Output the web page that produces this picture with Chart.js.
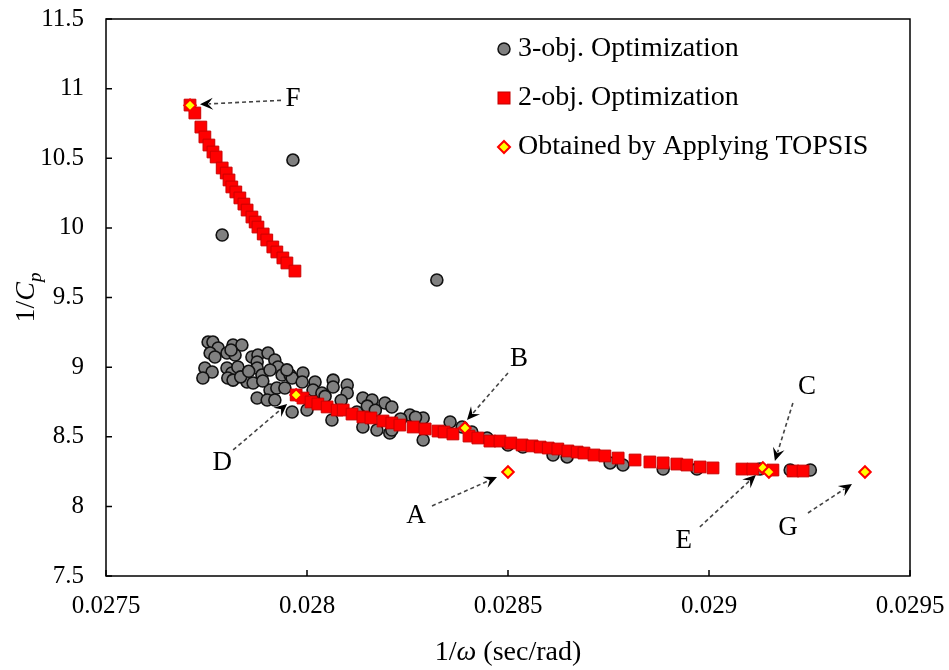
<!DOCTYPE html>
<html>
<head>
<meta charset="utf-8">
<script src="https://cdn.jsdelivr.net/npm/chart.js@4.4.1/dist/chart.umd.min.js"></script>
<style>
  html, body { margin: 0; padding: 0; background: #fff; }
  canvas { display: block; }
</style>
</head>
<body>
<canvas id="cp_chart" width="949" height="670"></canvas>
<script>
// axis ticks
var xTicks = [0.0275, 0.028, 0.0285, 0.029, 0.0295];
var xTickLabels = ['0.0275', '0.028', '0.0285', '0.029', '0.0295'];
var yTicks = [7.5, 8, 8.5, 9, 9.5, 10, 10.5, 11, 11.5];
var yTickLabels = ['7.5', '8', '8.5', '9', '9.5', '10', '10.5', '11', '11.5'];

// 3-objective Pareto front (1/omega, 1/Cp)
var obj3Omega = [
  0.027965, 0.027789, 0.028323, 0.027754, 0.027766, 0.027779, 0.027816, 0.027838,
  0.027759, 0.027771, 0.027801, 0.027821, 0.027863, 0.027878, 0.027903, 0.027876,
  0.027920, 0.027928, 0.027746, 0.027764, 0.027741, 0.027801, 0.027813, 0.027803,
  0.027816, 0.027828, 0.027851, 0.027866, 0.027876, 0.027888, 0.027908, 0.027908,
  0.027938, 0.027958, 0.027963, 0.027990, 0.027988, 0.027925, 0.027945, 0.027876,
  0.027901, 0.027920, 0.027963, 0.028020, 0.028015, 0.028065, 0.028065, 0.028100,
  0.028100, 0.028037, 0.028000, 0.028062, 0.028139, 0.028162, 0.028194, 0.028139,
  0.028174, 0.028124, 0.028206, 0.028211, 0.028256, 0.028289, 0.028211, 0.028289,
  0.028356, 0.028386, 0.028410, 0.028448, 0.028500, 0.028537, 0.028612, 0.028647,
  0.028754, 0.028786, 0.028886, 0.028970, 0.029127, 0.029202, 0.029252, 0.027811,
  0.028233, 0.028270, 0.027950, 0.028045, 0.028085, 0.028150, 0.028170, 0.027835,
  0.027855, 0.027890
];
var obj3Cp = [
  10.487, 9.949, 9.626, 9.180, 9.180, 9.137, 9.159, 9.159,
  9.101, 9.073, 9.101, 9.087, 9.073, 9.087, 9.101, 9.037,
  9.051, 9.001, 8.994, 8.965, 8.922, 8.994, 8.958, 8.922,
  8.907, 9.001, 8.893, 8.886, 8.994, 8.943, 8.979, 8.836,
  8.943, 8.943, 8.922, 8.958, 8.893, 8.850, 8.850, 8.778,
  8.764, 8.764, 8.678, 8.893, 8.836, 8.907, 8.857, 8.872,
  8.814, 8.814, 8.692, 8.620, 8.778, 8.764, 8.742, 8.570,
  8.548, 8.678, 8.527, 8.714, 8.656, 8.635, 8.548, 8.477,
  8.606, 8.570, 8.534, 8.491, 8.441, 8.426, 8.369, 8.355,
  8.312, 8.297, 8.268, 8.268, 8.268, 8.261, 8.261, 9.123,
  8.628, 8.640, 8.980, 8.790, 8.760, 8.720, 8.690, 8.930,
  8.970, 8.900
];

// 2-objective Pareto front
var obj2Omega = [
  0.027709, 0.027721, 0.027736, 0.027746, 0.027756, 0.027766, 0.027774, 0.027789,
  0.027799, 0.027806, 0.027813, 0.027823, 0.027833, 0.027843, 0.027851, 0.027863,
  0.027871, 0.027878, 0.027891, 0.027900, 0.027915, 0.027925, 0.027940, 0.027950,
  0.027970,
  0.027973, 0.027990, 0.028010, 0.028027, 0.028050, 0.028075, 0.028090, 0.028112,
  0.028139, 0.028159, 0.028189, 0.028211, 0.028231, 0.028264, 0.028294, 0.028326,
  0.028341, 0.028363, 0.028403, 0.028425, 0.028455, 0.028480, 0.028507, 0.028535,
  0.028560, 0.028580, 0.028600, 0.028624, 0.028649, 0.028672, 0.028689, 0.028714,
  0.028741, 0.028774, 0.028816, 0.028853, 0.028886, 0.028920, 0.028945, 0.028978,
  0.029010, 0.029082, 0.029109, 0.029159, 0.029209, 0.029234
];
var obj2Cp = [
  10.882, 10.825, 10.724, 10.653, 10.595, 10.545, 10.509, 10.430,
  10.394, 10.344, 10.294, 10.258, 10.215, 10.171, 10.128, 10.078,
  10.042, 10.006, 9.956, 9.913, 9.863, 9.827, 9.784, 9.748,
  9.690,
  8.800, 8.778, 8.750, 8.735, 8.714, 8.692, 8.692, 8.663,
  8.642, 8.635, 8.613, 8.599, 8.584, 8.570, 8.556, 8.541,
  8.534, 8.520, 8.505, 8.491, 8.469, 8.469, 8.455, 8.441,
  8.434, 8.426, 8.419, 8.412, 8.398, 8.390, 8.383, 8.369,
  8.362, 8.347, 8.333, 8.319, 8.312, 8.304, 8.297, 8.283,
  8.276, 8.268, 8.268, 8.261, 8.254, 8.254
];

// solutions picked by TOPSIS
var topsisNames = ['F', 'D', 'B', 'A', 'E', 'C', 'G'];
var topsisOmega = [0.027709, 0.027973, 0.028393, 0.028500, 0.029134, 0.029149, 0.029388];
var topsisCp = [10.88, 8.80, 8.563, 8.247, 8.276, 8.247, 8.247];

function pairs(xs, ys) {
  return xs.map(function (v, i) { return {x: v, y: ys[i]}; });
}

var serif = 'Liberation Serif, Times New Roman, serif';

// callout offsets from each TOPSIS point, in pixels: arrow tip, arrow tail, letter
var callouts = {
  F: {tip: [10, -1], tail: [91, -5], text: [103, -6]},
  B: {tip: [2, -8], tail: [43, -55], text: [54, -69]},
  A: {tip: [-11, 5], tail: [-76, 34], text: [-92, 44]},
  D: {tip: [-9, 9], tail: [-63, 55], text: [-74, 68]},
  C: {tip: [6, -11], tail: [24, -69], text: [38, -85]},
  E: {tip: [-7, 7], tail: [-63, 59], text: [-79, 73]},
  G: {tip: [-13, 12], tail: [-57, 41], text: [-77, 56]}
};

function arrow(ctx, sx, sy, tx, ty) {
  var ang = Math.atan2(ty - sy, tx - sx);
  var back = 9;
  ctx.save();
  ctx.strokeStyle = '#444';
  ctx.lineWidth = 1.6;
  ctx.setLineDash([4, 3]);
  ctx.beginPath();
  ctx.moveTo(sx, sy);
  ctx.lineTo(tx - Math.cos(ang) * back, ty - Math.sin(ang) * back);
  ctx.stroke();
  ctx.setLineDash([]);
  ctx.translate(tx, ty);
  ctx.rotate(ang);
  ctx.fillStyle = '#000';
  ctx.beginPath();
  ctx.moveTo(0, 0);
  ctx.lineTo(-13, -6);
  ctx.lineTo(-8, 0);
  ctx.lineTo(-13, 6);
  ctx.closePath();
  ctx.fill();
  ctx.restore();
}

function richText(ctx, parts, x, y) {
  // parts: [text, font, dy]
  var w = 0;
  parts.forEach(function (p) { ctx.font = p[1]; w += ctx.measureText(p[0]).width; });
  var cx = x - w / 2;
  parts.forEach(function (p) {
    ctx.font = p[1];
    ctx.fillText(p[0], cx, y + (p[2] || 0));
    cx += ctx.measureText(p[0]).width;
  });
}

var decor = {
  id: 'decor',
  beforeDatasetsDraw: function (chart) {
    var ctx = chart.ctx, a = chart.chartArea, sx = chart.scales.x, sy = chart.scales.y;
    ctx.save();
    ctx.strokeStyle = '#000';
    ctx.lineWidth = 1.5;
    ctx.strokeRect(a.left, a.top, a.right - a.left, a.bottom - a.top);
    ctx.beginPath();
    sx.ticks.forEach(function (t) {
      var px = sx.getPixelForValue(t.value);
      ctx.moveTo(px, a.bottom);
      ctx.lineTo(px, a.bottom - 6);
    });
    sy.ticks.forEach(function (t) {
      var py = sy.getPixelForValue(t.value);
      ctx.moveTo(a.left, py);
      ctx.lineTo(a.left + 6, py);
    });
    ctx.stroke();
    ctx.restore();
  },
  afterDatasetsDraw: function (chart) {
    var ctx = chart.ctx, a = chart.chartArea, sx = chart.scales.x, sy = chart.scales.y;
    ctx.save();

    // letters and dashed arrows
    topsisNames.forEach(function (n, i) {
      var c = callouts[n];
      var px = sx.getPixelForValue(topsisOmega[i]);
      var py = sy.getPixelForValue(topsisCp[i]);
      arrow(ctx, px + c.tail[0], py + c.tail[1], px + c.tip[0], py + c.tip[1]);
      ctx.fillStyle = '#000';
      ctx.font = '27px ' + serif;
      ctx.textAlign = 'center';
      ctx.textBaseline = 'middle';
      ctx.fillText(n, px + c.text[0], py + c.text[1]);
    });

    // legend
    var lx = 504, tx = 518, rows = [49, 98, 147];
    ctx.textAlign = 'left';
    ctx.textBaseline = 'middle';
    ctx.font = '28px ' + serif;
    ctx.fillStyle = '#808080'; ctx.strokeStyle = '#111'; ctx.lineWidth = 1.5;
    ctx.beginPath(); ctx.arc(lx, rows[0], 6, 0, Math.PI * 2); ctx.fill(); ctx.stroke();
    ctx.fillStyle = '#ff0000'; ctx.strokeStyle = '#c00000'; ctx.lineWidth = 1;
    ctx.fillRect(lx - 6, rows[1] - 6, 12, 12); ctx.strokeRect(lx - 6, rows[1] - 6, 12, 12);
    ctx.fillStyle = '#ffff00'; ctx.strokeStyle = '#ff0000'; ctx.lineWidth = 2;
    ctx.beginPath();
    ctx.moveTo(lx, rows[2] - 6); ctx.lineTo(lx + 6, rows[2]); ctx.lineTo(lx, rows[2] + 6); ctx.lineTo(lx - 6, rows[2]);
    ctx.closePath(); ctx.fill(); ctx.stroke();
    ctx.fillStyle = '#000';
    chart.data.datasets.slice().sort(function (p, q) { return q.order - p.order; }).forEach(function (d, i) {
      ctx.fillText(d.label, tx, rows[i]);
    });

    // axis titles
    ctx.textAlign = 'left';
    ctx.textBaseline = 'alphabetic';
    richText(ctx, [
      ['1/', '28px ' + serif],
      ['\u03c9', 'italic 28px ' + serif],
      [' (sec/rad)', '28px ' + serif]
    ], (a.left + a.right) / 2, 660);

    ctx.translate(34, (a.top + a.bottom) / 2);
    ctx.rotate(-Math.PI / 2);
    richText(ctx, [
      ['1/', '28px ' + serif],
      ['C', 'italic 28px ' + serif],
      ['p', 'italic 19px ' + serif, 7]
    ], 0, 0);
    ctx.restore();
  }
};

var tickFont = {family: serif, size: 25};
// invisible outer tick marks only serve as label spacing
var spacerGrid = function (len) {
  return {display: true, drawOnChartArea: false, drawTicks: true, tickLength: len, color: 'rgba(0,0,0,0)'};
};

new Chart(document.getElementById('cp_chart'), {
  type: 'scatter',
  data: {
    datasets: [{
      label: 'Obtained by Applying TOPSIS',
      data: pairs(topsisOmega, topsisCp),
      pointStyle: 'rectRot',
      pointRadius: 5.8,
      backgroundColor: '#ffff00',
      borderColor: '#ff0000',
      borderWidth: 2,
      order: 0
    }, {
      label: '2-obj. Optimization',
      data: pairs(obj2Omega, obj2Cp),
      pointStyle: 'rect',
      pointRadius: 8.3,
      backgroundColor: '#ff0000',
      borderColor: '#cc0000',
      borderWidth: 1,
      order: 1
    }, {
      label: '3-obj. Optimization',
      data: pairs(obj3Omega, obj3Cp),
      pointStyle: 'circle',
      pointRadius: 6,
      backgroundColor: '#808080',
      borderColor: '#111111',
      borderWidth: 1.6,
      order: 2
    }]
  },
  options: {
    responsive: false,
    animation: false,
    devicePixelRatio: 1,
    layout: {padding: {top: 19, right: 39, left: 0, bottom: 0}},
    plugins: {
      legend: {display: false},
      tooltip: {enabled: false}
    },
    scales: {
      x: {
        type: 'linear',
        min: 0.0275,
        max: 0.0295,
        grid: spacerGrid(15),
        border: {display: false},
        afterBuildTicks: function (s) { s.ticks = xTicks.map(function (v) { return {value: v}; }); },
        afterFit: function (s) { s.height = 94; },
        ticks: {
          color: '#000',
          font: tickFont,
          padding: 0,
          maxRotation: 0,
          callback: function (v, i) { return xTickLabels[i]; }
        }
      },
      y: {
        min: 7.5,
        max: 11.5,
        grid: spacerGrid(21),
        border: {display: false},
        afterBuildTicks: function (s) { s.ticks = yTicks.map(function (v) { return {value: v}; }); },
        afterFit: function (s) { s.width = 106; },
        ticks: {
          color: '#000',
          font: tickFont,
          padding: 1,
          callback: function (v, i) { return yTickLabels[i]; }
        }
      }
    }
  },
  plugins: [decor]
});
</script>
</body>
</html>
